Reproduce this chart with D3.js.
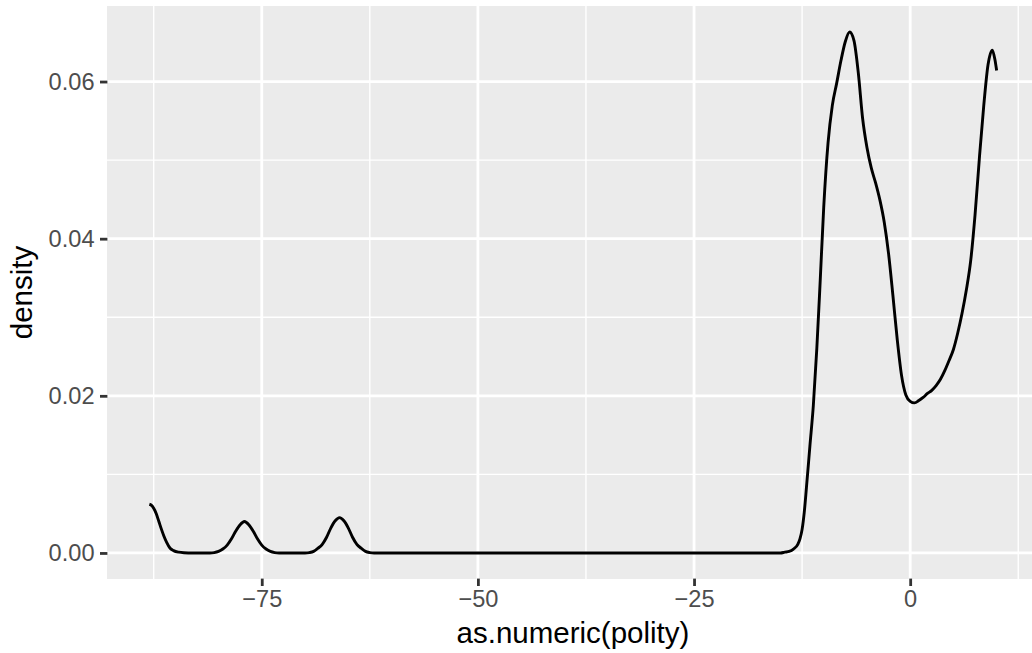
<!DOCTYPE html>
<html>
<head>
<meta charset="utf-8">
<script src="https://cdn.jsdelivr.net/npm/d3@7"></script>
<style>
   body { margin: 0; background: #ffffff; }
   svg { display: block; font-family: "Liberation Sans", Arial, sans-serif; }
</style>
</head>
<body>
<div id="chart"></div>
<script>

// POLITY VALUES (X)
var polity = [
   -88, -87.8, -87.5, -87.2, -86.9, -86.6, -86.3, -86, -85.6, -85.2, -84.6, -84, -83,
   -81, -80.5, -80, -79.5, -79, -78.5, -78, -77.5, -77, -76.5, -76, -75.5, -75, -74.5, -74, -73.5, -73,
   -70, -69.5, -69, -68.5, -68, -67.5, -67, -66.5, -66, -65.5, -65, -64.5, -64, -63.5, -63, -62.5, -62,
   -15, -14.5, -14, -13.5, -13, -12.75, -12.5, -12.25, -12, -11.6, -11.2, -10.8, -10.4, -10, -9.5, -9,
   -8.5, -8, -7.5, -7, -6.5, -6, -5.5, -5, -4.5, -4, -3.5, -3, -2.5, -2, -1.5, -1, -0.5, 0, 0.5,
   1, 1.5, 2, 2.5, 3, 3.5, 4, 4.5, 5, 5.5, 6, 6.5, 7, 7.5, 8, 8.5, 9, 9.5, 9.8, 10
];

// DENSITY VALUES (Y)
var density = [
   0.0062, 0.0061, 0.0057, 0.0050, 0.0040, 0.0030, 0.0021, 0.00135, 0.0006, 0.0003, 0.0001, 0.00003, 0,
   0, 0.00005, 0.0002, 0.0005, 0.001, 0.0018, 0.0028, 0.0036, 0.0040, 0.0036, 0.0028, 0.0018, 0.001, 0.0005, 0.0002, 0.00005, 0,
   0, 0.00005, 0.0002, 0.0006, 0.0011, 0.0020, 0.0032, 0.0041, 0.0045, 0.0041, 0.0032, 0.0020, 0.0011, 0.0006, 0.0002, 0.00005, 0,
   0, 0.0001, 0.0002, 0.0005, 0.0011, 0.0018, 0.0030, 0.0052, 0.0083, 0.0136, 0.0188, 0.0260, 0.0348, 0.0440, 0.0522, 0.0570,
   0.0598, 0.0627, 0.0651, 0.0663, 0.0652, 0.0611, 0.0553, 0.0516, 0.0490, 0.0471, 0.0449, 0.0421, 0.0381, 0.0328, 0.0272, 0.0226, 0.0201, 0.0193, 0.0191,
   0.0194, 0.0198, 0.0203, 0.0207, 0.0213, 0.0221, 0.0232, 0.0245, 0.0259, 0.0280, 0.0305, 0.0335, 0.0372, 0.0430, 0.0502, 0.0568, 0.0621, 0.0640, 0.0628, 0.0614
];

// TICKS
var xTicks = [-75, -50, -25, 0];
var xMinor = [-87.5, -62.5, -37.5, -12.5, 12.5];
var yTicks = [0, 0.02, 0.04, 0.06];
var yMinor = [0.01, 0.03, 0.05];

// TITLES
var xTitle = 'as.numeric(polity)';
var yTitle = 'density';

// CANVAS + PANEL DIMENSIONS
var width = 1032, height = 653;
var panel = { left: 107, right: 1039, top: 6, bottom: 579 };

var canvas = d3.select('#chart').append('svg')
   .attr('width', width)
   .attr('height', height)

// X-SCALING (5% EXPANSION LIKE GGPLOT)
var xExt = d3.extent(polity);
var xPad = (xExt[1] - xExt[0]) * 0.05;
var xScale = d3.scaleLinear()
   .domain([xExt[0] - xPad, xExt[1] + xPad])
   .range([panel.left, panel.right])

// Y-SCALING
var yMax = d3.max(density);
var yPad = yMax * 0.05;
var yScale = d3.scaleLinear()
   .domain([-yPad, yMax + yPad])
   .range([panel.bottom, panel.top])

// PANEL BACKGROUND
canvas.append('rect')
   .attr('x', panel.left)
   .attr('y', panel.top)
   .attr('width', panel.right - panel.left)
   .attr('height', panel.bottom - panel.top)
   .attr('fill', '#ebebeb')

// MINOR GRID
canvas.selectAll('.xminor')
   .data(xMinor)
      .enter().append('line')
         .attr('x1', (d) => { return xScale(d) })
         .attr('x2', (d) => { return xScale(d) })
         .attr('y1', panel.top)
         .attr('y2', panel.bottom)
         .attr('stroke', '#ffffff')
         .attr('stroke-width', 1.4)

canvas.selectAll('.yminor')
   .data(yMinor)
      .enter().append('line')
         .attr('x1', panel.left)
         .attr('x2', panel.right)
         .attr('y1', (d) => { return yScale(d) })
         .attr('y2', (d) => { return yScale(d) })
         .attr('stroke', '#ffffff')
         .attr('stroke-width', 1.4)

// MAJOR GRID
canvas.selectAll('.xmajor')
   .data(xTicks)
      .enter().append('line')
         .attr('x1', (d) => { return xScale(d) })
         .attr('x2', (d) => { return xScale(d) })
         .attr('y1', panel.top)
         .attr('y2', panel.bottom)
         .attr('stroke', '#ffffff')
         .attr('stroke-width', 2.8)

canvas.selectAll('.ymajor')
   .data(yTicks)
      .enter().append('line')
         .attr('x1', panel.left)
         .attr('x2', panel.right)
         .attr('y1', (d) => { return yScale(d) })
         .attr('y2', (d) => { return yScale(d) })
         .attr('stroke', '#ffffff')
         .attr('stroke-width', 2.8)

// DENSITY LINE
var pathify = d3.line()
   .x((d, i) => { return xScale(polity[i]) })
   .y((d) => { return yScale(d) })
   .curve(d3.curveMonotoneX)

canvas.append('path')
   .attr('fill', 'none')
   .attr('stroke', '#000000')
   .attr('stroke-width', 2.9)
   .attr('stroke-linejoin', 'round')
   .attr('d', pathify(density))

// X AXIS
var xAxis = d3.axisBottom(xScale)
   .tickValues(xTicks)
   .tickSize(7.4)
   .tickPadding(4)
   .tickFormat((d) => { return d < 0 ? '\u2212' + Math.abs(d) : d })

var gx = canvas.append('g')
   .attr('transform', 'translate(0,' + (panel.bottom - 0.4) + ')')
   .call(xAxis)

gx.select('.domain').remove()
gx.selectAll('line').attr('stroke', '#333333').attr('stroke-width', 2.8)
gx.selectAll('text')
   .attr('fill', '#4d4d4d')
   .attr('font-size', '23.6px')
   .attr('font-family', '"Liberation Sans", Arial, sans-serif')

// Y AXIS
var yAxis = d3.axisLeft(yScale)
   .tickValues(yTicks)
   .tickSize(7.4)
   .tickPadding(5.5)
   .tickFormat(d3.format('.2f'))

var gy = canvas.append('g')
   .attr('transform', 'translate(' + (panel.left + 0.4) + ',0)')
   .call(yAxis)

gy.select('.domain').remove()
gy.selectAll('line').attr('stroke', '#333333').attr('stroke-width', 2.8)
gy.selectAll('text')
   .attr('fill', '#4d4d4d')
   .attr('font-size', '23.6px')
   .attr('font-family', '"Liberation Sans", Arial, sans-serif')

// AXIS TITLES
canvas.append('text')
   .attr('x', (panel.left + panel.right) / 2)
   .attr('y', 643)
   .attr('text-anchor', 'middle')
   .attr('font-size', '29.5px')
   .attr('fill', '#000000')
   .text(xTitle)

canvas.append('text')
   .attr('transform', 'translate(32,' + ((panel.top + panel.bottom) / 2) + ') rotate(-90)')
   .attr('text-anchor', 'middle')
   .attr('font-size', '29.5px')
   .attr('fill', '#000000')
   .text(yTitle)

</script>
</body>
</html>
